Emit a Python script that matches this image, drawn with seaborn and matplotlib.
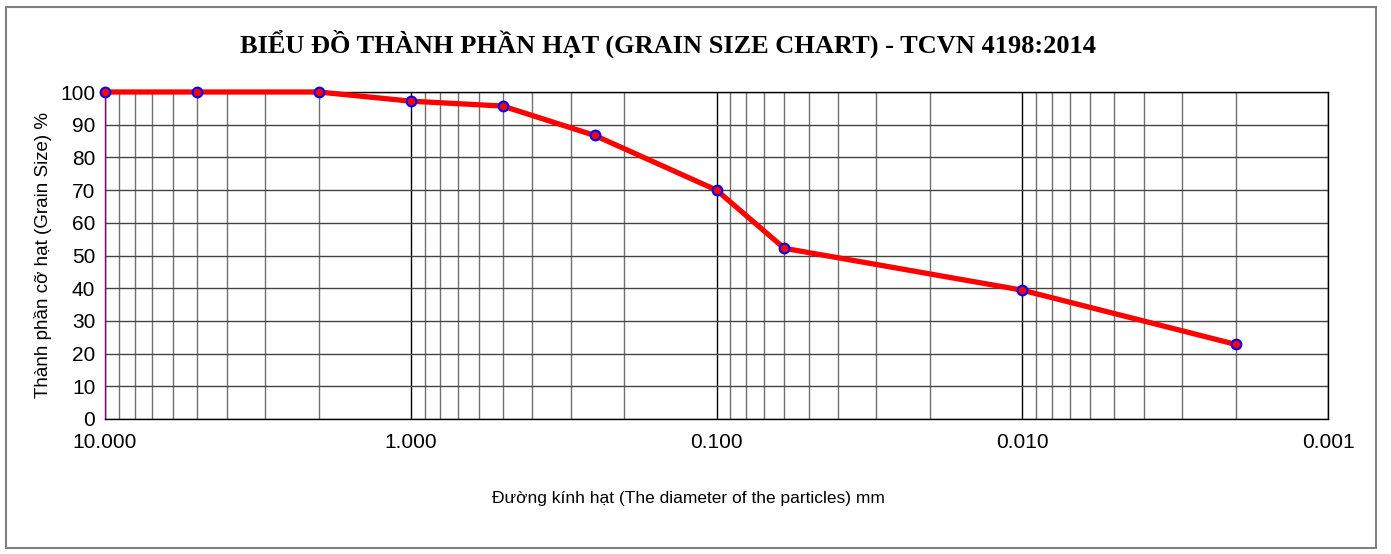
import matplotlib
matplotlib.use("Agg")
import matplotlib.pyplot as plt
import matplotlib.ticker as mticker
from matplotlib.patches import Rectangle
import seaborn as sns
import pandas as pd

# grain size data (mm) and percent passing
diameter = [10.0, 5.0, 2.0, 1.0, 0.5, 0.25, 0.1, 0.06, 0.01, 0.002]
percent = [100, 100, 100, 97.2, 95.7, 86.7, 70.0, 52.2, 39.4, 22.8]
x_ticks = [10, 1, 0.1, 0.01, 0.001]
x_tick_labels = ["10.000", "1.000", "0.100", "0.010", "0.001"]
y_ticks = list(range(0, 101, 10))

df = pd.DataFrame({"d": diameter, "p": percent})

sns.set_style("white")
plt.rcParams['font.family'] = ['Liberation Sans', 'DejaVu Sans']
plt.rcParams['text.color'] = 'black'
plt.rcParams['axes.labelcolor'] = 'black'
plt.rcParams['xtick.color'] = 'black'
plt.rcParams['ytick.color'] = 'black'

fig = plt.figure(figsize=(13.91, 5.54), dpi=100)
ax = fig.add_axes([105 / 1391, 1 - 419 / 554, (1328 - 105) / 1391, (419 - 92) / 554])

# figure border
fig.patches.append(Rectangle((6 / 1391, 6 / 554), 1370 / 1391, 541 / 554,
                             transform=fig.transFigure, fill=False,
                             edgecolor="#808080", linewidth=1.5))

sns.lineplot(data=df, x="d", y="p", ax=ax, color="red", linewidth=3.8,
             marker="o", markersize=7, markerfacecolor="red",
             markeredgecolor="blue", markeredgewidth=1.5, zorder=5, clip_on=False)

ax.set_xscale("log")
ax.set_xlim(10, 0.001)
ax.set_ylim(0, 100)

ax.xaxis.set_major_locator(mticker.FixedLocator(x_ticks))
ax.xaxis.set_major_formatter(mticker.FixedFormatter(x_tick_labels))
ax.xaxis.set_minor_locator(mticker.LogLocator(base=10, subs=range(2, 10), numticks=20))
ax.xaxis.set_minor_formatter(mticker.NullFormatter())
ax.set_yticks(y_ticks)

ax.grid(True, which="major", axis="both", color="black", linewidth=1.0)
ax.grid(True, which="minor", axis="x", color="#707070", linewidth=1.0)
ax.grid(True, which="major", axis="y", color="#444444", linewidth=1.0)

for s in ax.spines.values():
    s.set_color("black")
    s.set_linewidth(1.0)
ax.spines["left"].set_color("#800080")

ax.tick_params(axis="x", which="major", direction="out", length=6, width=1,
               labelsize=15, pad=4, color="black")
ax.tick_params(axis="x", which="minor", direction="out", length=4, width=1, color="black")
ax.tick_params(axis="y", which="major", direction="out", length=5, width=1,
               labelsize=15, pad=2, color="#800080")

ax.set_xlabel("Đường kính hạt (The diameter of the particles) mm", fontsize=12.5,
              labelpad=28, x=0.477)
ax.set_ylabel("Thành phần cỡ hạt (Grain Size) %", fontsize=13.5, labelpad=6)

fig.text(668 / 1391, 1 - 44 / 554,
         "BIỂU ĐỒ THÀNH PHẦN HẠT (GRAIN SIZE CHART) - TCVN 4198:2014",
         ha="center", va="center", fontsize=19, fontweight="bold",
         family=['Liberation Serif', 'DejaVu Serif'])

fig.savefig("out.png", dpi=100)
